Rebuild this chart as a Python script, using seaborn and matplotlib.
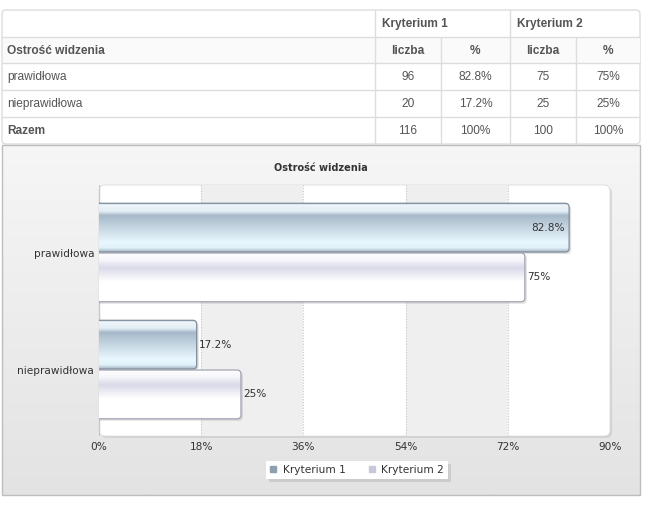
import numpy as np
import pandas as pd
import matplotlib
matplotlib.use("Agg")
import matplotlib.pyplot as plt
import seaborn as sns
from matplotlib.patches import FancyBboxPatch, Rectangle
from matplotlib.lines import Line2D
from matplotlib.colors import to_rgb

# ---------------- data ----------------
title = "Ostrość widzenia"
categories = ["prawidłowa", "nieprawidłowa"]
series = ["Kryterium 1", "Kryterium 2"]
k1_count = [96, 20]
k2_count = [75, 25]
k1_pct = [82.8, 17.2]
k2_pct = [75, 25]
total_count = [116, 100]
total_label = "Razem"
col_labels = ["liczba", "%"]
x_ticks = [0, 18, 36, 54, 72, 90]

sns.set_theme(style="white")
plt.rcParams["font.family"] = ["DejaVu Sans"]

W, H = 648, 505
fig = plt.figure(figsize=(W / 100, H / 100), dpi=100)
fig.patch.set_facecolor("white")

# background axes in pixel coordinates
bg = fig.add_axes([0, 0, 1, 1])
bg.set_xlim(0, W)
bg.set_ylim(H, 0)
bg.axis("off")


def vgrad(ax, stops, extent, clip, zorder):
    n = 256
    pos = np.array([s[0] for s in stops])
    cols = np.array([to_rgb(s[1]) for s in stops])
    t = np.linspace(0, 1, n)
    arr = np.stack([np.interp(t, pos, cols[:, i]) for i in range(3)], axis=-1)
    arr = arr[:, None, :]
    im = ax.imshow(arr, extent=extent, aspect="auto", origin="upper",
                   zorder=zorder, interpolation="bilinear")
    im.set_clip_path(clip)
    return im


# ---------------- table ----------------
tfont = ["Liberation Sans", "DejaVu Sans"]
tsize = 8.6
tcol = "#555555"
line_c = "#dddddd"
x_cols = [2, 375, 441, 510, 576, 640]
y_rows = [10, 37, 63, 90, 117, 144]

tbl = FancyBboxPatch((x_cols[0], y_rows[0]), x_cols[-1] - x_cols[0], y_rows[-1] - y_rows[0],
                     boxstyle="round,pad=0,rounding_size=4", fc="white", ec=line_c, lw=1, zorder=1)
bg.add_patch(tbl)
bg.add_patch(Rectangle((x_cols[0] + 0.5, y_rows[1]), x_cols[-1] - x_cols[0] - 1, y_rows[2] - y_rows[1],
                       fc="#fafafa", ec="none", zorder=1.2))
for yy in y_rows[1:-1]:
    bg.plot([x_cols[0], x_cols[-1]], [yy, yy], color=line_c, lw=1, zorder=2)
for xx in [x_cols[1], x_cols[3]]:
    bg.plot([xx, xx], [y_rows[0], y_rows[-1]], color=line_c, lw=1, zorder=2)
for xx in [x_cols[2], x_cols[4]]:
    bg.plot([xx, xx], [y_rows[1], y_rows[-1]], color=line_c, lw=1, zorder=2)

def ycen(i):
    return (y_rows[i] + y_rows[i + 1]) / 2 + 0.5

bg.text(x_cols[1] + 7, ycen(0), series[0], ha="left", va="center", family=tfont, size=tsize,
        weight="bold", color=tcol, zorder=3)
bg.text(x_cols[3] + 7, ycen(0), series[1], ha="left", va="center", family=tfont, size=tsize,
        weight="bold", color=tcol, zorder=3)
bg.text(x_cols[0] + 5, ycen(1), title, ha="left", va="center", family=tfont, size=tsize,
        weight="bold", color=tcol, zorder=3)
for j in range(4):
    bg.text((x_cols[j + 1] + x_cols[j + 2]) / 2, ycen(1), col_labels[j % 2], ha="center", va="center",
            family=tfont, size=tsize, weight="bold", color=tcol, zorder=3)

def fmt_pct(v):
    return f"{v:g}%"

for i, cat in enumerate(categories):
    vals = [str(k1_count[i]), fmt_pct(k1_pct[i]), str(k2_count[i]), fmt_pct(k2_pct[i])]
    bg.text(x_cols[0] + 5, ycen(2 + i), cat, ha="left", va="center", family=tfont, size=tsize,
            color=tcol, zorder=3)
    for j, v in enumerate(vals):
        bg.text((x_cols[j + 1] + x_cols[j + 2]) / 2, ycen(2 + i), v, ha="center", va="center",
                family=tfont, size=tsize, color=tcol, zorder=3)
tot_vals = [str(total_count[0]), "100%", str(total_count[1]), "100%"]
bg.text(x_cols[0] + 5, ycen(4), total_label, ha="left", va="center", family=tfont, size=tsize,
        weight="bold", color=tcol, zorder=3)
for j, v in enumerate(tot_vals):
    bg.text((x_cols[j + 1] + x_cols[j + 2]) / 2, ycen(4), v, ha="center", va="center",
            family=tfont, size=tsize, color=tcol, zorder=3)

# ---------------- chart panel ----------------
px0, py0, px1, py1 = 2, 145, 640, 495
panel = Rectangle((px0, py0), px1 - px0, py1 - py0, fc="none", ec="#bdbdbd", lw=1, zorder=5)
bg.add_patch(panel)
vgrad(bg, [(0, "#f6f6f6"), (1, "#e3e3e3")], (px0, px1, py1, py0), panel, 4)

bg.text((px0 + px1) / 2, 168, title, ha="center", va="center", size=7, weight="bold",
        color="#333333", zorder=6)

# plot area (white rounded box with shadow)
ax0, ay0, ax1, ay1 = 99, 185, 610, 436
bg.add_patch(FancyBboxPatch((ax0 + 2, ay0 + 2), ax1 - ax0, ay1 - ay0,
                            boxstyle="round,pad=0,rounding_size=6", fc="#c4c4c4", ec="none",
                            alpha=0.6, zorder=6))
bg.add_patch(FancyBboxPatch((ax0, ay0), ax1 - ax0, ay1 - ay0,
                            boxstyle="round,pad=0,rounding_size=6", fc="white", ec="#dcdcdc",
                            lw=0.6, zorder=7))

# ---------------- bars ----------------
ax = fig.add_axes([ax0 / W, 1 - ay1 / H, (ax1 - ax0) / W, (ay1 - ay0) / H], zorder=10)
ax.patch.set_alpha(0)

df = pd.DataFrame({
    "category": categories * 2,
    "series": [series[0]] * len(categories) + [series[1]] * len(categories),
    "value": k1_pct + k2_pct,
})
sns.barplot(data=df, y="category", x="value", hue="series", orient="h", width=0.85, gap=0.02,
            palette=["#a6b8c8", "#dcdcea"], ax=ax, legend=False, saturation=1)

xmin, xmax = x_ticks[0], x_ticks[-1]
ylo, yhi = -0.577, 1.568
ax.set_xlim(xmin, xmax)
ax.set_ylim(yhi, ylo)

# bands and grid
for a, b in [(18, 36), (54, 72)]:
    ax.axvspan(a, b, color="#efefef", zorder=0, lw=0)
for t in x_ticks[1:-1]:
    ax.axvline(t, color="#c8c8c8", lw=0.8, ls=(0, (1, 1.5)), zorder=0.5)
ax.axvline(0, color="#c8c8c8", lw=1.0, zorder=0.6)

xu = (xmax - xmin) / (ax1 - ax0)   # data units per px (x)
yu = (yhi - ylo) / (ay1 - ay0)      # data units per px (y)
r = 4 * xu
asp = yu / xu

styles = [
    dict(stops=[(0, "#b4c4d2"), (0.04, "#eef5fa"), (0.17, "#e2edf5"), (0.25, "#a7b9c9"),
                (0.8, "#e9f8ff"), (0.92, "#e0f0f8"), (1, "#a2b2c0")], ec="#7f8e9c"),
    dict(stops=[(0, "#ffffff"), (0.14, "#f6f6fb"), (0.3, "#d9d9e9"), (0.58, "#ffffff"),
                (1, "#ffffff")], ec="#a4a4b4"),
]
vals_by_series = [k1_pct, k2_pct]
lsize = 7.6
for si, cont in enumerate(ax.containers):
    st = styles[si]
    for bi, rect in enumerate(cont.patches):
        x, y, w, h = rect.get_x(), rect.get_y(), rect.get_width(), rect.get_height()
        y_top = min(y, y + h)
        hh = abs(h)
        rect.set_visible(False)
        shadow = FancyBboxPatch((x - 1, y_top + 2 * yu), w + 1 + 2 * xu, hh,
                                boxstyle=f"round,pad=0,rounding_size={r}", mutation_aspect=asp,
                                fc="#9a9a9a", ec="none", alpha=0.3, zorder=1)
        ax.add_patch(shadow)
        fb = FancyBboxPatch((x - 1, y_top), w + 1, hh,
                            boxstyle=f"round,pad=0,rounding_size={r}", mutation_aspect=asp,
                            fc="none", ec=st["ec"], lw=0.9, zorder=3)
        ax.add_patch(fb)
        vgrad(ax, st["stops"], (x - 1, x + w, y_top + hh, y_top), fb, 2)
        v = vals_by_series[si][bi]
        lab = fmt_pct(v)
        if v > 80:
            ax.text(x + w - 4 * xu, y_top + hh / 2, lab, ha="right", va="center", size=lsize,
                    color="#333333", zorder=4)
        else:
            ax.text(x + w + 2 * xu, y_top + hh / 2, lab, ha="left", va="center", size=lsize,
                    color="#333333", zorder=4)

ax.set_xlim(xmin, xmax)
ax.set_ylim(yhi, ylo)
ax.set_xticks(x_ticks)
ax.set_xticklabels([f"{t}%" for t in x_ticks])
ax.set_xlabel("")
ax.set_ylabel("")
ax.tick_params(axis="x", length=0, pad=4.5, labelsize=lsize, colors="#333333")
ax.tick_params(axis="y", length=0, pad=3.5, labelsize=lsize, colors="#333333")
for s in ax.spines.values():
    s.set_visible(False)
ax.grid(False)

# legend
handles = [Line2D([], [], marker="s", ls="", color="#8f9fb0", markersize=5),
           Line2D([], [], marker="s", ls="", color="#c8c8dc", markersize=5)]
leg = ax.legend(handles, series, loc="center", bbox_to_anchor=(357 / W, 1 - 470 / H),
                bbox_transform=fig.transFigure, ncol=2, frameon=True, fancybox=False,
                shadow={"color": "#b0b0b0", "alpha": 0.45, "ox": 2, "oy": -2},
                fontsize=lsize, handlelength=0.6,
                handletextpad=0.6, columnspacing=2.2, borderpad=0.4, labelcolor="#333333")
leg.get_frame().set_edgecolor("white")
leg.get_frame().set_facecolor("white")
leg.get_frame().set_linewidth(0)

fig.savefig("out.png", dpi=100, facecolor="white")
